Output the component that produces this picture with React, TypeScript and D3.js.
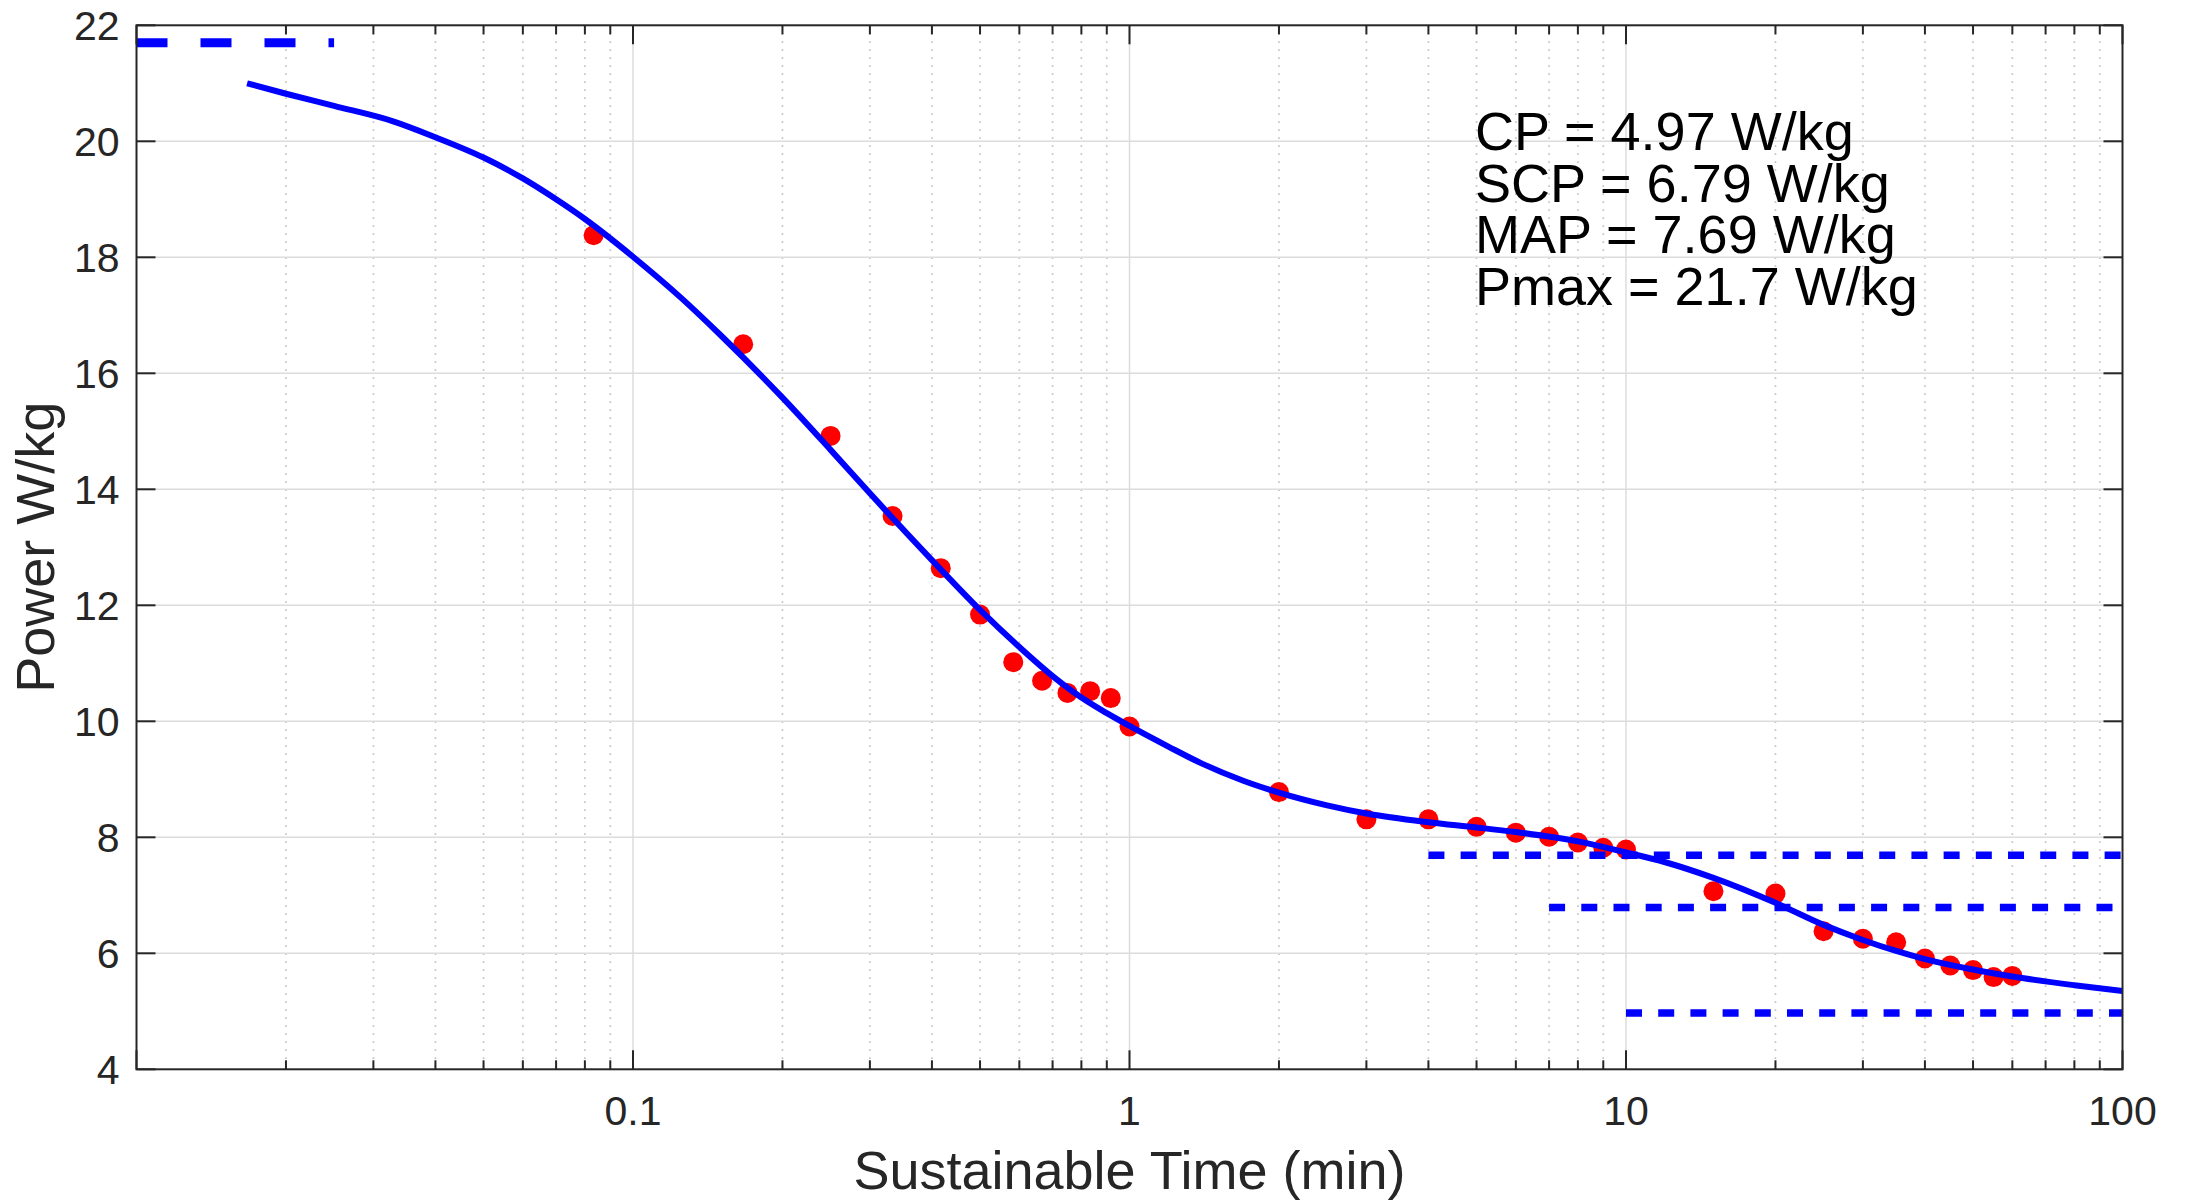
import React, { useEffect, useRef } from "react"
import * as d3 from "d3"

const WIDTH = 2185
const HEIGHT = 1203

// measured best efforts, time in minutes
const TIME_MIN = [
	0.0833, 0.1667, 0.25, 0.3333, 0.4167, 0.5, 0.5833, 0.6667, 0.75, 0.8333, 0.9167, 1,
	2, 3, 4, 5, 6, 7, 8, 9, 10, 15, 20, 25, 30, 35, 40, 45, 50, 55, 60,
]
const POWER_WKG = [
	18.38, 16.5, 14.92, 13.54, 12.64, 11.84, 11.02, 10.7, 10.49, 10.52, 10.4, 9.91,
	8.78, 8.31, 8.31, 8.18, 8.08, 8.01, 7.91, 7.82, 7.79, 7.07, 7.03, 6.38, 6.25, 6.19,
	5.91, 5.79, 5.71, 5.59, 5.61,
]

// fitted model curve
const FIT_TIME_MIN = [
	0.0167, 0.02, 0.025, 0.033, 0.04, 0.05, 0.06, 0.07, 0.08, 0.1, 0.125, 0.15, 0.2, 0.25,
	0.3, 0.4, 0.5, 0.6, 0.7, 0.8, 0.9, 1, 1.2, 1.4, 1.7, 2, 2.5, 3, 4, 5, 6, 8, 10, 12, 15,
	20, 25, 30, 35, 40, 50, 60, 80, 100,
]
const FIT_POWER_WKG = [
	21.0, 20.82, 20.61, 20.34, 20.07, 19.72, 19.36, 19.0, 18.66, 18.01, 17.3, 16.66,
	15.58, 14.68, 13.93, 12.78, 11.92, 11.28, 10.78, 10.41, 10.14, 9.92, 9.56, 9.27, 8.97,
	8.77, 8.55, 8.41, 8.26, 8.17, 8.09, 7.93, 7.74, 7.57, 7.3, 6.87, 6.49, 6.23, 6.04, 5.9,
	5.72, 5.6, 5.45, 5.35,
]

// model levels and the time span each reference line covers
const LEVEL_NAMES = ["CP", "SCP", "MAP", "Pmax"]
const LEVEL_VALUES = [4.97, 6.79, 7.69, 21.7]
const LEVEL_FROM_MIN = [10, 7, 4, 0.01]
const LEVEL_TO_MIN = [100, 100, 100, 0.025]

const X_DOMAIN = [0.01, 100]
const Y_DOMAIN = [4, 22]
const X_LABELED_TICKS = [0.1, 1, 10, 100]

const FONT = "'Liberation Sans', Arial, Helvetica, sans-serif"
const AXIS_COLOR = "#262626"

const PowerDurationChart = () => {
	const svgRef = useRef<SVGSVGElement>(null)

	useEffect(() => {
		if (!svgRef.current) return
		const svg = d3.select(svgRef.current)
		svg.selectAll("*").remove()

		const margin = { top: 25.3, right: 62.5, bottom: 133.7, left: 136.5 }
		const left = margin.left
		const right = WIDTH - margin.right
		const top = margin.top
		const bottom = HEIGHT - margin.bottom

		const x = d3.scaleLog().domain(X_DOMAIN).range([left, right])
		const y = d3.scaleLinear().domain(Y_DOMAIN).range([bottom, top])

		const xTicks = x.ticks()
		const isMajor = (t: number) => Math.abs(Math.log10(t) - Math.round(Math.log10(t))) < 1e-6
		const yTicks = y.ticks(10)

		svg.append("rect").attr("width", WIDTH).attr("height", HEIGHT).attr("fill", "#fff")

		// grid
		const grid = svg.append("g")
		xTicks
			.filter((t) => t > X_DOMAIN[0] * 1.0001 && t < X_DOMAIN[1] * 0.9999)
			.forEach((t) => {
				const major = isMajor(t)
				grid
					.append("line")
					.attr("x1", x(t))
					.attr("x2", x(t))
					.attr("y1", top)
					.attr("y2", bottom)
					.attr("stroke", major ? "#dcdcdc" : "#c2c2c2")
					.attr("stroke-width", major ? 1.5 : 1.6)
					.attr("stroke-dasharray", major ? null : "1.6 6.4")
			})
		yTicks
			.filter((t) => t > Y_DOMAIN[0] && t < Y_DOMAIN[1])
			.forEach((t) => {
				grid
					.append("line")
					.attr("x1", left)
					.attr("x2", right)
					.attr("y1", y(t))
					.attr("y2", y(t))
					.attr("stroke", "#dcdcdc")
					.attr("stroke-width", 1.5)
			})

		// measured points
		svg
			.append("g")
			.selectAll("circle")
			.data(TIME_MIN.map((t, i) => [t, POWER_WKG[i]]))
			.join("circle")
			.attr("cx", (d) => x(d[0]))
			.attr("cy", (d) => y(d[1]))
			.attr("r", 10)
			.attr("fill", "#ff0000")

		// fit
		const fitLine = d3
			.line<number>()
			.x((t) => x(t))
			.y((_, i) => y(FIT_POWER_WKG[i]))
			.curve(d3.curveMonotoneX)

		svg
			.append("path")
			.datum(FIT_TIME_MIN)
			.attr("fill", "none")
			.attr("stroke", "#0000ff")
			.attr("stroke-width", 6)
			.attr("d", fitLine)

		// level lines
		LEVEL_NAMES.forEach((name, i) => {
			const isPmax = name === "Pmax"
			svg
				.append("line")
				.attr("x1", x(LEVEL_FROM_MIN[i]))
				.attr("x2", x(LEVEL_TO_MIN[i]))
				.attr("y1", y(LEVEL_VALUES[i]))
				.attr("y2", y(LEVEL_VALUES[i]))
				.attr("stroke", "#0000ff")
				.attr("stroke-width", isPmax ? 9 : 7.6)
				.attr("stroke-dasharray", isPmax ? "31 33" : "16 16.2")
		})

		// axes box
		svg
			.append("rect")
			.attr("x", left)
			.attr("y", top)
			.attr("width", right - left)
			.attr("height", bottom - top)
			.attr("fill", "none")
			.attr("stroke", AXIS_COLOR)
			.attr("stroke-width", 2)

		const ticks = svg.append("g").attr("stroke", AXIS_COLOR).attr("stroke-width", 2)
		xTicks.forEach((t) => {
			const len = isMajor(t) ? 19 : 9
			ticks.append("line").attr("x1", x(t)).attr("x2", x(t)).attr("y1", bottom).attr("y2", bottom - len)
			ticks.append("line").attr("x1", x(t)).attr("x2", x(t)).attr("y1", top).attr("y2", top + len)
		})
		yTicks.forEach((t) => {
			ticks.append("line").attr("x1", left).attr("x2", left + 19).attr("y1", y(t)).attr("y2", y(t))
			ticks.append("line").attr("x1", right).attr("x2", right - 19).attr("y1", y(t)).attr("y2", y(t))
		})

		// tick labels
		const labels = svg
			.append("g")
			.attr("font-family", FONT)
			.attr("font-size", 41)
			.attr("fill", AXIS_COLOR)
		X_LABELED_TICKS.forEach((t) => {
			labels
				.append("text")
				.attr("x", x(t))
				.attr("y", 1125)
				.attr("text-anchor", "middle")
				.text(String(t))
		})
		yTicks.forEach((t) => {
			labels
				.append("text")
				.attr("x", left - 17)
				.attr("y", y(t) + 14.6)
				.attr("text-anchor", "end")
				.text(String(t))
		})

		// axis titles
		svg
			.append("text")
			.attr("x", (left + right) / 2)
			.attr("y", 1189)
			.attr("text-anchor", "middle")
			.attr("font-family", FONT)
			.attr("font-size", 54)
			.attr("fill", AXIS_COLOR)
			.text("Sustainable Time (min)")

		svg
			.append("text")
			.attr("transform", `translate(54,${(top + bottom) / 2}) rotate(-90)`)
			.attr("text-anchor", "middle")
			.attr("font-family", FONT)
			.attr("font-size", 54)
			.attr("fill", AXIS_COLOR)
			.text("Power W/kg")

		// annotation
		LEVEL_NAMES.forEach((name, i) => {
			svg
				.append("text")
				.attr("x", 1475)
				.attr("y", 150 + i * 51.7)
				.attr("font-family", FONT)
				.attr("font-size", 54)
				.attr("fill", "#000")
				.text(`${name} = ${LEVEL_VALUES[i]} W/kg`)
		})
	}, [])

	return (
		<svg
			ref={svgRef}
			width={WIDTH}
			height={HEIGHT}
			style={{ position: "absolute", left: 0, top: 0, display: "block" }}
		></svg>
	)
}

export default function App() {
	return <PowerDurationChart />
}
